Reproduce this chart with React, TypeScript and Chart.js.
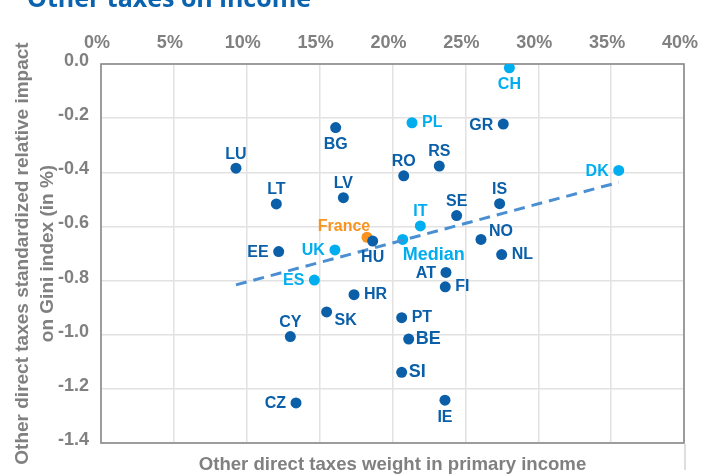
import React, { useEffect, useRef } from 'react';
import { Chart, registerables } from 'chart.js';

Chart.register(...registerables);

// ---- Data ----
const countries = ['LU', 'LT', 'BG', 'LV', 'CH', 'PL', 'GR', 'RS', 'RO', 'DK', 'IS', 'SE', 'IT', 'France', 'HU', 'Median', 'NO', 'NL', 'UK', 'EE', 'ES', 'AT', 'FI', 'HR', 'SK', 'CY', 'CZ', 'PT', 'BE', 'SI', 'IE'];
const weightPct = [9.26, 12.03, 16.1, 16.63, 28.02, 21.34, 27.6, 23.21, 20.77, 35.52, 27.35, 24.4, 21.91, 18.25, 18.64, 20.7, 26.07, 27.49, 16.05, 12.19, 14.64, 23.67, 23.62, 17.36, 15.48, 12.99, 13.38, 20.63, 21.11, 20.63, 23.6];
const giniImpact = [-0.385, -0.517, -0.235, -0.494, -0.014, -0.217, -0.222, -0.377, -0.413, -0.393, -0.516, -0.56, -0.598, -0.64, -0.654, -0.648, -0.648, -0.704, -0.687, -0.693, -0.798, -0.77, -0.823, -0.852, -0.916, -1.007, -1.252, -0.937, -1.016, -1.139, -1.242];
const lightBlueCountries = ['CH', 'PL', 'DK', 'IT', 'Median', 'UK', 'ES'];
const highlightCountry = 'France';
const largeLabelCountries = ['Median', 'BE', 'SI'];

const trendX = [9.26, 35.52];
const trendY = [-0.816, -0.437];

const xTickValues = [0, 5, 10, 15, 20, 25, 30, 35, 40];
const yTickValues = [0, -0.2, -0.4, -0.6, -0.8, -1.0, -1.2, -1.4];

const chartTitle = 'Other taxes on income';
const xTitle = 'Other direct taxes weight in primary income';
const yTitle = ['Other direct taxes standardized relative impact', 'on Gini index (in %)'];

// label placement (layout, not data)
const labelSide: Record<string, string> = {
  LU: 'top', LT: 'top', BG: 'bottom', LV: 'top', CH: 'bottom', PL: 'right', GR: 'left', RS: 'top',
  RO: 'top', DK: 'left', IS: 'top', SE: 'top', IT: 'top', France: 'topleft', HU: 'bottom',
  Median: 'median', NO: 'topright', NL: 'right', UK: 'left', EE: 'left', ES: 'left', AT: 'left',
  FI: 'right', HR: 'right', SK: 'bottomright', CY: 'top', CZ: 'left', PT: 'right', BE: 'right',
  SI: 'right', IE: 'bottom',
};

const DARK = '#0a5fa8';
const LIGHT = '#00aeef';
const ORANGE = '#f7931e';
const GRAY = '#808080';
const FONT = "'Liberation Sans', Arial, Helvetica, sans-serif";

function colorFor(c: string) {
  if (c === highlightCountry) return ORANGE;
  if (lightBlueCountries.includes(c)) return LIGHT;
  return DARK;
}

const labelPlugin = {
  id: 'pointLabels',
  afterDatasetsDraw(chart: any) {
    const meta = chart.getDatasetMeta(1);
    const ctx = chart.ctx;
    ctx.save();
    meta.data.forEach((el: any, i: number) => {
      const c = countries[i];
      const size = largeLabelCountries.includes(c) ? 18 : 16;
      ctx.font = `bold ${size}px ${FONT}`;
      ctx.fillStyle = colorFor(c);
      ctx.textBaseline = 'middle';
      let x = el.x;
      let y = el.y;
      const side = labelSide[c] || 'top';
      switch (side) {
        case 'top': ctx.textAlign = 'center'; y -= 14; break;
        case 'bottom': ctx.textAlign = 'center'; y += 17; break;
        case 'left': ctx.textAlign = 'right'; x -= 10; y += 1; break;
        case 'right': ctx.textAlign = 'left'; x += (size > 16 ? 7 : 10); break;
        case 'topleft': ctx.textAlign = 'center'; x -= 23; y -= 11; break;
        case 'topright': ctx.textAlign = 'left'; x += 8; y -= 8; break;
        case 'bottomright': ctx.textAlign = 'left'; x += 8; y += 9; break;
        case 'median': ctx.textAlign = 'left'; x += 0; y += 16; break;
      }
      ctx.fillText(c, x, y);
    });
    ctx.restore();
  },
};

const framePlugin = {
  id: 'frame',
  beforeDatasetsDraw(chart: any) {
    const { ctx, chartArea } = chart;
    ctx.save();
    ctx.strokeStyle = '#8a8a8a';
    ctx.lineWidth = 1.6;
    ctx.strokeRect(chartArea.left, chartArea.top, chartArea.right - chartArea.left, chartArea.bottom - chartArea.top);
    ctx.strokeStyle = '#dedede';
    ctx.lineWidth = 2;
    ctx.beginPath();
    ctx.moveTo(chartArea.right + 1, chartArea.bottom + 1);
    ctx.lineTo(chartArea.right + 1, chart.height - 4);
    ctx.stroke();
    ctx.restore();
  },
  afterDraw(chart: any) {
    const ctx = chart.ctx;
    ctx.save();
    ctx.font = `bold 25px 'Open Sans', ${FONT}`;
    ctx.fillStyle = '#0b63b0';
    ctx.textAlign = 'left';
    ctx.textBaseline = 'alphabetic';
    ctx.fillText(chartTitle, 27, 7);
    ctx.restore();
  },
};

export default function App() {
  const canvasRef = useRef<HTMLCanvasElement | null>(null);

  useEffect(() => {
    if (!canvasRef.current) return;
    const points = countries.map((_, i) => ({ x: weightPct[i], y: giniImpact[i] }));
    const trend = trendX.map((x, i) => ({ x, y: trendY[i] }));
    const tickFont = { family: FONT, size: 18, weight: 'bold' as const };

    const chart = new Chart(canvasRef.current, {
      type: 'scatter',
      data: {
        datasets: [
          {
            type: 'line',
            data: trend,
            borderColor: '#4a8fd2',
            borderWidth: 3,
            borderDash: [11, 7],
            pointRadius: 0,
            fill: false,
            xAxisID: 'x',
            yAxisID: 'y',
          } as any,
          {
            type: 'scatter',
            data: points,
            pointRadius: 5.5,
            pointBorderWidth: 0,
            pointBackgroundColor: countries.map(colorFor),
            pointBorderColor: countries.map(colorFor),
            xAxisID: 'x',
            yAxisID: 'y',
          },
        ],
      },
      options: {
        responsive: false,
        animation: false,
        layout: { padding: { left: 0, right: 17, top: 0, bottom: 0 } },
        plugins: {
          legend: { display: false },
          tooltip: { enabled: false },
          title: { display: false },
        },
        scales: {
          x: {
            type: 'linear',
            position: 'top',
            min: 0,
            max: 40,
            afterBuildTicks: (s: any) => { s.ticks = xTickValues.map((v) => ({ value: v })); },
            ticks: {
              font: tickFont,
              color: GRAY,
              padding: 10,
              labelOffset: -4,
              maxRotation: 0,
              callback: (v: any) => `${v}%`,
            },
            grid: { color: '#e2e2e2', lineWidth: 1.5, drawTicks: false },
            border: { display: false },
            afterFit: (s: any) => { s.height = 64; s.paddingLeft = 0; s.paddingRight = 0; },
          },
          xb: {
            type: 'linear',
            position: 'bottom',
            min: 0,
            max: 40,
            ticks: { display: false },
            grid: { display: false, drawTicks: false },
            border: { display: false },
            title: {
              display: true,
              text: xTitle,
              color: GRAY,
              font: { family: FONT, size: 18.6, weight: 'bold', lineHeight: 1 },
              padding: 0,
            },
            afterFit: (s: any) => { s.height = 31; s.paddingLeft = 0; s.paddingRight = 0; },
          },
          y: {
            type: 'linear',
            position: 'left',
            min: -1.4,
            max: 0,
            afterBuildTicks: (s: any) => { s.ticks = yTickValues.map((v) => ({ value: v })); },
            ticks: {
              font: tickFont,
              color: GRAY,
              padding: 12,
              labelOffset: -3,
              callback: (v: any) => Number(v).toFixed(1),
            },
            grid: { color: '#e2e2e2', lineWidth: 1.5, drawTicks: false },
            border: { display: false },
            title: {
              display: true,
              text: yTitle,
              color: GRAY,
              font: { family: FONT, size: 19, weight: 'bold', lineHeight: 1.32 },
              padding: { top: 10.5, bottom: 0 },
            },
            afterFit: (s: any) => { s.width = 101; s.paddingTop = 0; s.paddingBottom = 0; },
          },
        },
      } as any,
      plugins: [framePlugin, labelPlugin],
    });
    return () => chart.destroy();
  }, []);

  return (
    <div style={{ position: 'fixed', left: 0, top: 0, width: 701, height: 474, background: '#fff' }}>
      <canvas ref={canvasRef} width={701} height={474} style={{ width: 701, height: 474, display: 'block' }} />
    </div>
  );
}
